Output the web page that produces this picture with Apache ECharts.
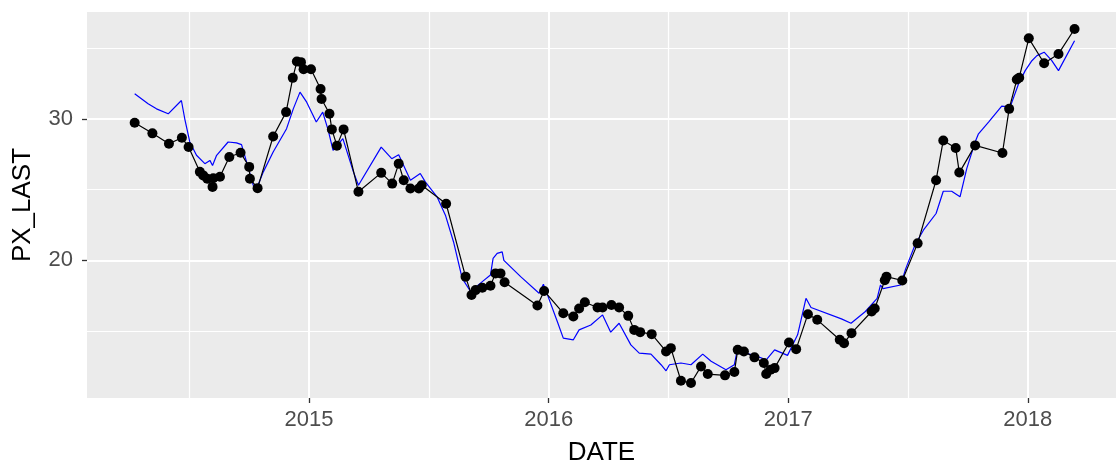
<!DOCTYPE html>
<html>
<head>
<meta charset="utf-8">
<title>PX_LAST</title>
<script src="https://cdn.jsdelivr.net/npm/echarts@6/dist/echarts.min.js"></script>
<style>
  html, body { margin: 0; padding: 0; background: #fff; }
  #chart { width: 1117px; height: 471px; }
</style>
</head>
<body>
<div id="chart"></div>
<script>
// dates are decimal years
const pxDates = [
  2014.272, 2014.346, 2014.415, 2014.469, 2014.497, 2014.544, 2014.558, 2014.575, 2014.597, 2014.600,
  2014.628, 2014.667, 2014.714, 2014.750, 2014.753, 2014.785, 2014.850, 2014.904, 2014.932, 2014.949,
  2014.966, 2014.977, 2015.008, 2015.048, 2015.052, 2015.085, 2015.095, 2015.116, 2015.144, 2015.206,
  2015.301, 2015.347, 2015.374, 2015.395, 2015.423, 2015.458, 2015.470, 2015.572, 2015.653, 2015.678,
  2015.695, 2015.723, 2015.757, 2015.778, 2015.799, 2015.816, 2015.953, 2015.981, 2016.061, 2016.103,
  2016.127, 2016.151, 2016.204, 2016.225, 2016.262, 2016.294, 2016.332, 2016.357, 2016.382, 2016.430,
  2016.490, 2016.510, 2016.552, 2016.594, 2016.636, 2016.664, 2016.736, 2016.775, 2016.789, 2016.815,
  2016.859, 2016.898, 2016.908, 2016.926, 2016.943, 2017.003, 2017.033, 2017.082, 2017.121, 2017.215,
  2017.233, 2017.264, 2017.348, 2017.361, 2017.403, 2017.410, 2017.476, 2017.540, 2017.617, 2017.647,
  2017.699, 2017.714, 2017.780, 2017.894, 2017.922, 2017.954, 2017.964, 2018.004, 2018.068, 2018.128,
  2018.195
]
const pxLast = [
  29.72, 28.97, 28.24, 28.66, 28.00, 26.25, 26.00, 25.77, 25.19, 25.80,
  25.90, 27.30, 27.60, 26.60, 25.77, 25.10, 28.75, 30.47, 32.89, 34.04,
  34.00, 33.50, 33.50, 32.10, 31.40, 30.35, 29.25, 28.10, 29.25, 24.84,
  26.18, 25.42, 26.83, 25.66, 25.07, 25.07, 25.30, 24.00, 18.85, 17.56,
  17.90, 18.07, 18.21, 19.08, 19.08, 18.45, 16.81, 17.84, 16.27, 16.03,
  16.60, 17.04, 16.67, 16.67, 16.85, 16.67, 16.08, 15.09, 14.93, 14.79,
  13.57, 13.80, 11.50, 11.34, 12.51, 11.97, 11.88, 12.11, 13.68, 13.57,
  13.15, 12.75, 11.97, 12.27, 12.39, 14.20, 13.73, 16.20, 15.80, 14.39,
  14.15, 14.86, 16.39, 16.60, 18.60, 18.85, 18.58, 21.20, 25.66, 28.47,
  27.94, 26.20, 28.12, 27.58, 30.70, 32.77, 32.90, 35.68, 33.92, 34.58,
  36.34
]

const fitDates = [
  2014.272, 2014.293, 2014.328, 2014.363, 2014.412, 2014.467, 2014.481, 2014.502, 2014.530, 2014.565,
  2014.586, 2014.597, 2014.614, 2014.662, 2014.697, 2014.718, 2014.739, 2014.767, 2014.781, 2014.809,
  2014.850, 2014.906, 2014.934, 2014.962, 2014.990, 2015.030, 2015.057, 2015.080, 2015.100, 2015.108,
  2015.141, 2015.185, 2015.206, 2015.301, 2015.345, 2015.374, 2015.423, 2015.464, 2015.485, 2015.534,
  2015.569, 2015.603, 2015.639, 2015.674, 2015.723, 2015.757, 2015.768, 2015.785, 2015.806, 2015.813,
  2015.883, 2015.960, 2015.978, 2015.995, 2016.036, 2016.061, 2016.103, 2016.127, 2016.176, 2016.225,
  2016.259, 2016.294, 2016.343, 2016.378, 2016.427, 2016.469, 2016.490, 2016.504, 2016.552, 2016.594,
  2016.643, 2016.678, 2016.740, 2016.775, 2016.789, 2016.803, 2016.859, 2016.908, 2016.943, 2016.997,
  2017.039, 2017.074, 2017.095, 2017.222, 2017.262, 2017.322, 2017.371, 2017.385, 2017.396, 2017.469,
  2017.490, 2017.529, 2017.564, 2017.617, 2017.647, 2017.682, 2017.717, 2017.745, 2017.780, 2017.794,
  2017.836, 2017.891, 2017.926, 2017.961, 2017.989, 2018.017, 2018.038, 2018.068, 2018.100, 2018.128,
  2018.195
]
const fitValues = [
  31.76, 31.50, 31.06, 30.70, 30.35, 31.29, 30.00, 28.36, 27.42, 26.83,
  27.06, 26.70, 27.42, 28.36, 28.30, 28.17, 26.95, 25.30, 25.07, 26.25,
  27.65, 29.30, 30.70, 31.88, 31.17, 29.77, 30.47, 29.18, 27.77, 27.65,
  28.60, 26.25, 25.30, 28.00, 27.18, 27.46, 25.66, 26.13, 25.54, 24.49,
  23.19, 21.30, 18.73, 17.80, 18.50, 18.96, 20.14, 20.49, 20.60, 20.00,
  18.85, 17.68, 18.31, 17.56, 15.68, 14.51, 14.39, 15.09, 15.44, 16.15,
  14.93, 15.56, 14.03, 13.45, 13.38, 12.63, 12.20, 12.63, 12.75, 12.63,
  13.38, 12.87, 12.27, 12.63, 13.80, 13.52, 13.29, 12.98, 13.68, 13.29,
  14.74, 17.32, 16.67, 15.87, 15.56, 16.39, 17.32, 18.26, 18.00, 18.26,
  19.40, 21.08, 22.13, 23.31, 24.88, 24.88, 24.49, 26.48, 28.36, 28.94,
  29.77, 30.89, 30.82, 32.46, 33.40, 34.10, 34.46, 34.70, 34.10, 33.40,
  35.51
]

const xLabels = [2015, 2016, 2017, 2018]
const xMinor = [2014.5, 2015.5, 2016.5, 2017.5]
const yLabels = [20, 30]
const yMinor = [15, 25, 35]

const font = 'Liberation Sans, Arial, sans-serif'
const xRange = { min: 2014.073, max: 2018.368 }
const yRange = { min: 10.28, max: 37.54 }

const chart = echarts.init(document.getElementById('chart'), null, { renderer: 'canvas' })

const hidden = { show: false }
const tickStyle = { length: 5, lineStyle: { color: '#333333', width: 1.3 } }

chart.setOption({
  animation: false,
  grid: {
    left: 87, right: 1, top: 12, bottom: 69,
    show: true, backgroundColor: '#EBEBEB', borderWidth: 0
  },
  xAxis: [
    {
      type: 'value', ...xRange,
      name: 'DATE', nameLocation: 'middle', nameGap: 42,
      nameTextStyle: { fontFamily: font, fontSize: 26, color: '#000' },
      axisLine: hidden,
      axisTick: { ...tickStyle, customValues: xLabels },
      axisLabel: {
        customValues: xLabels, margin: 11,
        fontFamily: font, fontSize: 22, color: '#4D4D4D',
        formatter: v => String(v)
      },
      splitLine: { show: true, lineStyle: { color: '#fff', width: 2 } }
    },
    {
      type: 'value', ...xRange, position: 'bottom',
      axisLine: hidden, axisLabel: hidden,
      axisTick: { show: false, customValues: xMinor },
      splitLine: { show: true, lineStyle: { color: '#fff', width: 1.2 } }
    }
  ],
  yAxis: [
    {
      type: 'value', ...yRange,
      name: 'PX_LAST', nameLocation: 'middle', nameGap: 51, nameRotate: 90,
      nameTextStyle: { fontFamily: font, fontSize: 26, color: '#000' },
      axisLine: hidden,
      axisTick: { ...tickStyle, customValues: yLabels },
      axisLabel: {
        customValues: yLabels, margin: 14,
        fontFamily: font, fontSize: 22, color: '#4D4D4D'
      },
      splitLine: { show: true, lineStyle: { color: '#fff', width: 2 } }
    },
    {
      type: 'value', ...yRange, position: 'left',
      axisLine: hidden, axisLabel: hidden,
      axisTick: { show: false, customValues: yMinor },
      splitLine: { show: true, lineStyle: { color: '#fff', width: 1.2 } }
    }
  ],
  series: [
    {
      name: 'fit', type: 'line',
      data: fitDates.map((d, i) => [d, fitValues[i]]),
      showSymbol: false, symbol: 'none',
      lineStyle: { color: '#0000FF', width: 1.2 },
      z: 2
    },
    {
      name: 'PX_LAST', type: 'line',
      data: pxDates.map((d, i) => [d, pxLast[i]]),
      symbol: 'circle', symbolSize: 10,
      itemStyle: { color: '#000' },
      lineStyle: { color: '#000', width: 1.2 },
      z: 3
    }
  ]
})
</script>
</body>
</html>
